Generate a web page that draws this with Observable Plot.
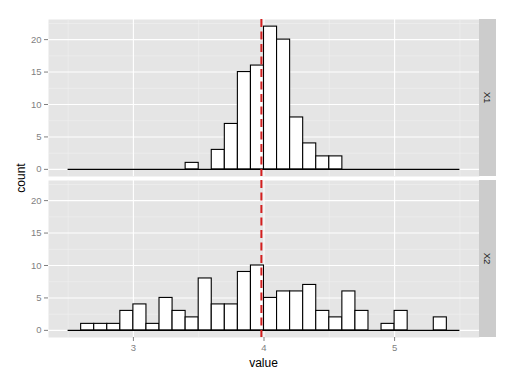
<!DOCTYPE html>
<html><head><meta charset="utf-8">
<script src="https://cdn.jsdelivr.net/npm/d3@7"></script>
<script src="https://cdn.jsdelivr.net/npm/@observablehq/plot@0.6"></script>
<style>body{margin:0;background:#fff} svg{display:block}</style>
</head><body><div id="chart"></div>
<script>
// ---- data ----
const panels = ["X1", "X2"];
const binStart = 2.5;
const binWidth = 0.1;
const countsX1 = [0,0,0,0,0,0,0,0,0,1, 0,3,7,15,16,22,20,8,4,2, 2,0,0,0,0,0,0,0,0,0];
const countsX2 = [0,1,1,1,3,4,1,5,3,2, 8,4,4,9,10,5,6,6,7,3, 2,6,3,0,1,3,0,0,2,0];
const meanValue = 3.98;
const xTicks = [3, 4, 5];
const xMinor = [2.5, 3.5, 4.5, 5.5];
const yTicks = [0, 5, 10, 15, 20];
const yMinor = [2.5, 7.5, 12.5, 17.5, 22.5];
const xLabel = "value";
const yLabel = "count";

// ---- build table ----
const edges = d3.range(countsX1.length + 1).map(i => +(binStart + i * binWidth).toFixed(2));
const seriesByPanel = {X1: countsX1, X2: countsX2};
const bins = panels.flatMap(p => seriesByPanel[p].map((c, i) => ({panel: p, x1: edges[i], x2: edges[i + 1], count: c})));
const lo = edges[0], hi = edges[edges.length - 1];
const xDomain = [lo - 0.05 * (hi - lo), hi + 0.05 * (hi - lo)];
const maxC = d3.max(bins, d => d.count);
const yDomain = [-0.05 * maxC, maxC * 1.05];

const W = 516, H = 382, mL = 48, mR = 37, mT = 19, mB = 45;
const grey50 = "#7F7F7F";

const plot = Plot.plot({
  width: W, height: H,
  marginLeft: mL, marginRight: mR, marginTop: mT, marginBottom: mB,
  style: {fontFamily: "'Liberation Sans', Arial, sans-serif", background: "white"},
  x: {domain: xDomain},
  y: {domain: yDomain},
  fy: {domain: panels, padding: 0.025, axis: null},
  marks: [
    Plot.frame({fill: "#E5E5E5", stroke: null}),
    Plot.gridX(xMinor, {stroke: "#F2F2F2", strokeOpacity: 1, strokeWidth: 0.6}),
    Plot.gridY(yMinor, {stroke: "#F2F2F2", strokeOpacity: 1, strokeWidth: 0.6}),
    Plot.gridX(xTicks, {stroke: "white", strokeOpacity: 1, strokeWidth: 1.1}),
    Plot.gridY(yTicks, {stroke: "white", strokeOpacity: 1, strokeWidth: 1.1}),
    Plot.axisX(xTicks, {tickSize: 4, tickPadding: 3, stroke: grey50, fill: grey50, fontSize: 9.5, label: null, tickFormat: d => String(d)}),
    Plot.axisY(yTicks, {tickSize: 4, tickPadding: 3, stroke: grey50, fill: grey50, fontSize: 9.5, label: null, tickFormat: d => String(d)}),
    Plot.ruleY([0], {x1: lo, x2: hi, stroke: "black", strokeWidth: 1.1}),
    Plot.rectY(bins.filter(d => d.count > 0), {x1: "x1", x2: "x2", y1: 0, y2: "count", fy: "panel", inset: 0, fill: "white", stroke: "black", strokeWidth: 1.1}),
    Plot.ruleX([meanValue], {stroke: "#D41F1F", strokeWidth: 2, strokeDasharray: "8,4.5"})
  ]
});

// strips and axis titles
const svg = d3.select(plot);
const fy = plot.scale("fy");
const stripX = W - mR;
const stripW = 17;
for (const p of panels) {
  const y0 = fy.apply(p);
  const bw = fy.bandwidth;
  svg.append("rect").attr("x", stripX).attr("y", y0).attr("width", stripW).attr("height", bw).attr("fill", "#CCCCCC");
  svg.append("text")
    .attr("transform", `translate(${stripX + stripW / 2},${y0 + bw / 2}) rotate(90)`)
    .attr("text-anchor", "middle").attr("dy", "0.35em")
    .attr("fill", "#1A1A1A").attr("font-size", 9.5)
    .text(p);
}
svg.append("text")
  .attr("x", mL + (W - mL - mR) / 2).attr("y", H - 15)
  .attr("text-anchor", "middle").attr("fill", "black").attr("font-size", 12)
  .text(xLabel);
svg.append("text")
  .attr("transform", `translate(21,${mT + (H - mT - mB) / 2}) rotate(-90)`)
  .attr("text-anchor", "middle").attr("dy", "0.35em").attr("fill", "black").attr("font-size", 12)
  .text(yLabel);

document.getElementById("chart").appendChild(plot);
</script>
</body></html>
